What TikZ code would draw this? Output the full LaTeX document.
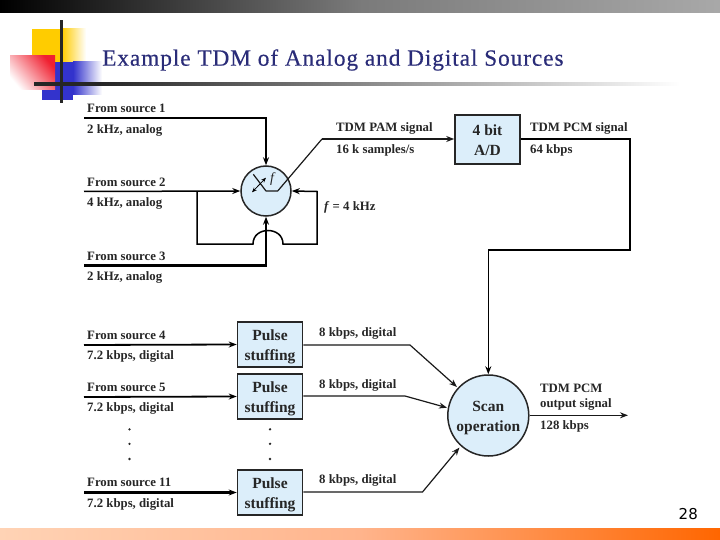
\documentclass[tikz,border=0pt]{standalone}
\usepackage{fontspec}
\setmainfont{Liberation Serif}
\newfontfamily\pagefont{DejaVu Sans}
\newfontfamily\titlefont[LetterSpace=4,FakeBold=0.4]{Liberation Serif}
\usetikzlibrary{arrows.meta}
\definecolor{boxfill}{HTML}{DCEEFA}
\definecolor{titleblue}{HTML}{2A2C78}
\definecolor{logoyellow}{HTML}{FFCC00}
\definecolor{logoblue}{HTML}{3333CC}
\definecolor{logored}{HTML}{F02030}
\tikzset{
  lbl/.style={anchor=west,inner sep=0pt,yshift=-1.5pt,font=\fontsize{12.8}{13}\selectfont\bfseries,text height=7.5pt,text depth=2pt,text=black!85},
  boxlbl/.style={align=center,font=\fontsize{15.5}{19.5}\selectfont\bfseries,text=black!85},
  blockbox/.style={draw=black!85,line width=1.6pt,fill=boxfill,minimum width=65pt,inner sep=0pt},
  roundbox/.style={circle,draw=black!85,line width=1.5pt,fill=boxfill,inner sep=0pt},
  wire/.style={draw=black!90,line width=1.2pt},
  heavy/.style={draw=black,line width=2.1pt},
  mid/.style={draw=black,line width=1.5pt},
  tip/.style={-{Stealth[length=8pt,width=6pt]}},
  dotmark/.style={circle,fill=black!85,inner sep=0pt,minimum size=2.6pt}
}
\begin{document}
\begin{tikzpicture}[x=1pt,y=-1pt]
\useasboundingbox (0,0) rectangle (720,540);
% slide decoration
\shade[left color=black,right color=black!52!white] (0,0) rectangle (360,13);
\shade[left color=black!52!white,right color=black!34!white] (360,0) rectangle (720,13);
\shade[left color={rgb,255:red,255;green,211;blue,181},right color={rgb,255:red,255;green,180;blue,140}] (0,528) rectangle (360,540);
\shade[left color={rgb,255:red,255;green,180;blue,140},right color={rgb,255:red,255;green,102;blue,0}] (360,528) rectangle (720,540);
\fill[logoyellow] (32,29) rectangle (62,62);
\shade[left color=logoyellow,right color=white] (62,29) rectangle (86,62);
\fill[logoblue] (55,62) rectangle (73,95);
\shade[left color=logoblue,right color=white] (73,62) rectangle (102,95);
\fill[logoblue] (42,90) rectangle (73,100);
\shade[bottom color=white,middle color=logored!30!white,top color=logored,shading angle=-50] (10,56) rectangle (55,90);
\fill[black!85] (59.5,20) rectangle (62.5,103);
\fill[black!85] (34,82.2) rectangle (100,85.8);
\shade[left color=black!85,middle color=black!38,right color=white] (100,82.2) rectangle (680,85.8);
\node[anchor=west,inner sep=0pt,text=titleblue,font=\titlefont\fontsize{23.3}{25}\selectfont] (title) at (102,60) {Example TDM of Analog and Digital Sources};
\node[anchor=east,inner sep=0pt,font=\pagefont\fontsize{15}{16}\selectfont] (pageno) at (698,514) {28};

% blocks
\node[roundbox,minimum size=50pt,fill=boxfill] (sw) at (266,191) {};
\node[blockbox,minimum height=49pt] (ad) at (487.5,139.5) {};
\node[boxlbl] (adtxt) at (487.5,140) {4 bit\\A/D};
\node[blockbox,minimum height=45pt] (p1) at (270,344.5) {};
\node[boxlbl] (p1txt) at (270,347) {Pulse\\stuffing};
\node[blockbox,minimum height=45pt] (p2) at (270,396.5) {};
\node[boxlbl] (p2txt) at (270,399) {Pulse\\stuffing};
\node[blockbox,minimum height=45pt] (p3) at (270,492.5) {};
\node[boxlbl] (p3txt) at (270,495) {Pulse\\stuffing};
\node[roundbox,minimum size=81pt] (scan) at (488.3,415.5) {};
\node[boxlbl] (scantxt) at (488.3,418) {Scan\\operation};

% named points
\coordinate (s1) at (84,118);
\coordinate (s1c) at (266,118);
\coordinate (s2) at (84,191.5);
\coordinate (s3) at (84,265.5);
\coordinate (s3c) at (266,265.5);
\coordinate (brA) at (197,191.5);
\coordinate (brB) at (197,244);
\coordinate (brC) at (253,244);
\coordinate (brD) at (283,244);
\coordinate (brE) at (317,244);
\coordinate (brF) at (317,191.5);
\coordinate (armA) at (253.3,174.3);
\coordinate (armB) at (266,191);
\coordinate (armC) at (277.7,191);
\coordinate (armD) at (322,139);
\coordinate (rotA) at (252,192.3);
\coordinate (rotB) at (266,177.7);
\coordinate (pcmA) at (630,139);
\coordinate (pcmB) at (630,250);
\coordinate (pcmC) at (488.3,250);
\coordinate (s4) at (84,345);
\coordinate (s5) at (84,397);
\coordinate (s11) at (84,492.5);
\coordinate (o1) at (410,345);
\coordinate (o1e) at (457,387);
\coordinate (o2) at (405,396);
\coordinate (o2e) at (447,407.7);
\coordinate (o3) at (422.5,492);
\coordinate (o3e) at (459.5,447.5);
\coordinate (outp) at (628,415.3);

% connectors
\draw[heavy,tip] (s1) -- (s1c) -- (sw.north);
\draw[mid,tip] (s2) -- (sw.west);
\draw[mid,tip] (brA) -- (brB) -- (brC) .. controls (253,226) and (283,226) .. (brD) -- (brE) -- (brF) -- (sw.east);
\draw[heavy,tip] (s3) -- (s3c) -- (sw.south);
\draw[wire,line join=round] (armA) -- (armB) -- (armC) -- (armD);
\draw[wire,tip] (armD) -- (ad.west |- armD);
\draw[line width=0.8pt,{Stealth[length=5pt,width=4pt]}-{Stealth[length=5pt,width=4pt]}] (rotA) -- (rotB);
\draw[mid] (ad.east |- pcmA) -- (pcmA) -- (pcmB) -- (pcmC);
\draw[mid,tip] (pcmC) -- (scan.north);
\draw[mid,line width=1.8pt,tip] (s4) -- (p1.west);
\draw[mid,line width=1.8pt,tip] (s5) -- (p2.west);
\draw[heavy,tip] (s11) -- (p3.west);
\draw[wire,tip] (p1.east |- o1) -- (o1) -- (o1e);
\draw[wire,tip] (p2.east |- o2) -- (o2) -- (o2e);
\draw[wire,tip] (p3.east |- o3) -- (o3) -- (o3e);
\draw[wire,tip] (scan.east |- outp) -- (outp);

% labels
\node[lbl] (l1) at (87,108) {From source 1};
\node[lbl] (l1b) at (87,129) {2 kHz, analog};
\node[lbl] (l2) at (87,182) {From source 2};
\node[lbl] (l2b) at (87,202) {4 kHz, analog};
\node[lbl] (l3) at (87,256) {From source 3};
\node[lbl] (l3b) at (87,276) {2 kHz, analog};
\node[lbl] (l4) at (87,335) {From source 4};
\node[lbl] (l4b) at (87,355) {7.2 kbps, digital};
\node[lbl] (l5) at (87,387) {From source 5};
\node[lbl] (l5b) at (87,407.5) {7.2 kbps, digital};
\node[lbl] (l11) at (87,482) {From source 11};
\node[lbl] (l11b) at (87,503) {7.2 kbps, digital};
\node[lbl] (pam) at (336,127) {TDM PAM signal};
\node[lbl] (pamb) at (336,149) {16 k samples/s};
\node[lbl] (pcm) at (530,127) {TDM PCM signal};
\node[lbl] (pcmb) at (530,149) {64 kbps};
\node[lbl] (freq) at (324,206) {\textit{f} = 4 kHz};
\node[lbl,font=\fontsize{14}{14}\selectfont\itshape] (fsw) at (270,178) {f};
\node[lbl] (d1) at (319,332) {8 kbps, digital};
\node[lbl] (d2) at (319,384) {8 kbps, digital};
\node[lbl] (d3) at (319,479) {8 kbps, digital};
\node[lbl] (outa) at (540,388) {TDM PCM};
\node[lbl] (outb) at (540,403) {output signal};
\node[lbl] (outc) at (540,425) {128 kbps};

% dots
\foreach \yy/\nm in {429.3/a,443.8/b,459/c}{
  \node[dotmark] (dl\nm) at (129.5,\yy) {};
  \node[dotmark] (dr\nm) at (270,\yy) {};
}
\end{tikzpicture}
\end{document}
